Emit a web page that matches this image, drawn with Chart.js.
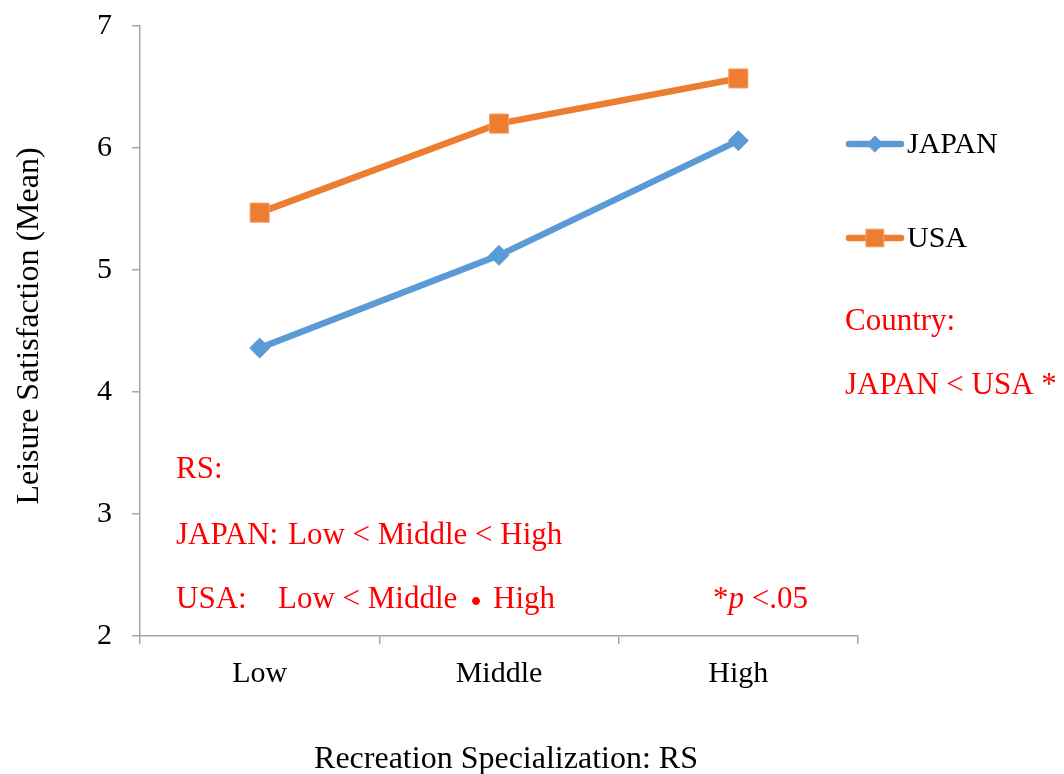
<!DOCTYPE html>
<html>
<head>
<meta charset="utf-8">
<script src="https://cdn.jsdelivr.net/npm/chart.js@4/dist/chart.umd.min.js"></script>
<style>
  html, body { margin: 0; padding: 0; background: #ffffff; }
  #wrap { width: 1064px; height: 774px; position: relative; }
</style>
</head>
<body>
<div id="wrap"><canvas id="chart" width="1064" height="774"></canvas></div>
<script>
// Recreation specialization levels (x categories)
const categories = ['Low', 'Middle', 'High'];
// Mean leisure satisfaction per country
const japanValues = [4.36, 5.12, 6.06];
const usaValues = [5.47, 6.20, 6.57];
// Y-axis range and tick step
const yMin = 2;
const yMax = 7;
const yStep = 1;

const SERIF = '"Liberation Serif", "Times New Roman", "Noto Sans CJK JP", serif';
const BLUE = '#5B9BD5';
const ORANGE = '#ED7D31';
const RED = '#FF0000';
const AXIS_GREY = '#A6A6A6';

// Draws axis titles, legend and the red significance notes
const notesPlugin = {
  id: 'notes',
  afterDraw(chart) {
    const ctx = chart.ctx;
    ctx.save();

    // Y-axis title (rotated)
    ctx.fillStyle = '#000000';
    ctx.font = '32px ' + SERIF;
    ctx.textAlign = 'center';
    ctx.textBaseline = 'middle';
    ctx.save();
    ctx.translate(30, 326);
    ctx.rotate(-Math.PI / 2);
    ctx.fillText('Leisure Satisfaction (Mean)', 0, 0);
    ctx.restore();

    // X-axis title
    ctx.fillText('Recreation Specialization: RS', 506, 760);

    // Legend entries built from the datasets
    const legendY = [144, 238];
    const legendRadius = [8, 12.5];
    chart.data.datasets.forEach((ds, i) => {
      const y = legendY[i];
      ctx.strokeStyle = ds.borderColor;
      ctx.lineWidth = ds.borderWidth;
      ctx.lineCap = 'round';
      ctx.beginPath();
      ctx.moveTo(849, y);
      ctx.lineTo(901, y);
      ctx.stroke();
      ctx.fillStyle = ds.pointBackgroundColor;
      ctx.strokeStyle = ds.pointBorderColor;
      ctx.lineWidth = 1;
      Chart.helpers.drawPoint(ctx, {
        pointStyle: ds.pointStyle,
        radius: legendRadius[i],
        rotation: 0,
        borderWidth: 1
      }, 875, y);
      ctx.fillStyle = '#000000';
      ctx.font = '30px ' + SERIF;
      ctx.textAlign = 'left';
      ctx.textBaseline = 'middle';
      ctx.fillText(ds.label, 907, y + 1);
    });

    // Significance notes
    ctx.fillStyle = RED;
    ctx.font = '31px ' + SERIF;
    ctx.textAlign = 'left';
    ctx.textBaseline = 'middle';
    ctx.fillText('Country:', 845, 322);
    ctx.fillText('JAPAN < USA *', 845, 386);
    ctx.fillText('RS:', 176, 470);
    ctx.fillText('JAPAN:', 176, 536);
    ctx.fillText('Low < Middle < High', 288, 536);
    ctx.fillText('USA:', 176, 600);
    ctx.fillText('Low < Middle', 278, 600);
    ctx.fillText('High', 493, 600);
    ctx.textAlign = 'center';
    ctx.font = 'bold 31px "Noto Sans CJK JP", sans-serif';
    ctx.fillText('・', 476, 600);
    ctx.textAlign = 'left';
    ctx.font = '31px ' + SERIF;

    // "*p <.05" with italic p
    let x = 713;
    ctx.fillText('*', x, 600);
    x += ctx.measureText('*').width;
    ctx.font = 'italic 31px ' + SERIF;
    ctx.fillText('p', x, 600);
    x += ctx.measureText('p').width;
    ctx.font = '31px ' + SERIF;
    ctx.fillText(' <.05', x, 600);

    ctx.restore();
  }
};

new Chart(document.getElementById('chart'), {
  type: 'line',
  data: {
    labels: categories,
    datasets: [
      {
        label: 'JAPAN',
        data: japanValues,
        borderColor: BLUE,
        backgroundColor: BLUE,
        pointBackgroundColor: BLUE,
        pointBorderColor: BLUE,
        borderWidth: 6.5,
        pointStyle: 'rectRot',
        pointRadius: 10,
        pointBorderWidth: 1,
        tension: 0
      },
      {
        label: 'USA',
        data: usaValues,
        borderColor: ORANGE,
        backgroundColor: ORANGE,
        pointBackgroundColor: ORANGE,
        pointBorderColor: '#F4A26B',
        borderWidth: 6.5,
        pointStyle: 'rect',
        pointRadius: 13.5,
        pointBorderWidth: 1,
        tension: 0
      }
    ]
  },
  options: {
    responsive: false,
    animation: false,
    devicePixelRatio: 1,
    layout: { padding: { top: 26, right: 206, left: 0, bottom: 0 } },
    plugins: {
      legend: { display: false },
      tooltip: { enabled: false },
      title: { display: false }
    },
    scales: {
      x: {
        type: 'category',
        offset: true,
        border: { display: true, color: AXIS_GREY, width: 1.5 },
        grid: {
          display: true,
          offset: true,
          drawOnChartArea: false,
          drawTicks: true,
          tickLength: 8,
          color: AXIS_GREY,
          lineWidth: 1.5
        },
        ticks: {
          color: '#000000',
          font: { family: SERIF, size: 30 },
          padding: 12,
          maxRotation: 0
        },
        afterFit(scale) {
          scale.height = 138;
          scale.paddingLeft = 0;
          scale.paddingRight = 0;
        }
      },
      y: {
        min: yMin,
        max: yMax,
        border: { display: true, color: AXIS_GREY, width: 1.5 },
        grid: {
          display: true,
          drawOnChartArea: false,
          drawTicks: true,
          tickLength: 8,
          color: AXIS_GREY,
          lineWidth: 1.5
        },
        ticks: {
          stepSize: yStep,
          color: '#000000',
          font: { family: SERIF, size: 30 },
          padding: 20
        },
        afterFit(scale) {
          scale.width = 140;
          scale.paddingTop = 0;
          scale.paddingBottom = 0;
        }
      }
    }
  },
  plugins: [notesPlugin]
});
</script>
</body>
</html>
